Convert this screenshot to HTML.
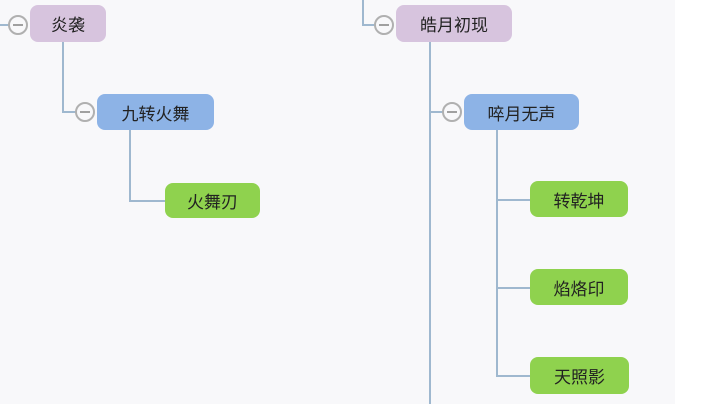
<!DOCTYPE html>
<html><head><meta charset="utf-8"><style>
body{margin:0;width:720px;height:404px;background:#fff;position:relative;overflow:hidden;font-family:"Liberation Sans","Noto Sans CJK SC",sans-serif}
.bg{position:absolute;left:0;top:0;width:675px;height:404px;background:#f8f8fa}
.n{position:absolute;border-radius:8px;display:flex;align-items:center;justify-content:center;font-size:17px;color:#222;box-sizing:border-box}
.p{background:#d7c4de}.b{background:#8db3e6}.g{background:#8fd24e}
.l{position:absolute;background:#9fb8cf}
.c{position:absolute;width:20px;height:20px;border:2px solid #b0b0b0;border-radius:50%;background:#f8f8fa;box-sizing:border-box}
.c::after{content:"";position:absolute;left:3px;right:3px;top:7px;height:2px;background:#a0a0a0}
</style></head><body>
<div class="bg"></div>
<div class="l" style="left:0;top:24px;width:10px;height:2px"></div>
<div class="l" style="left:62px;top:42px;width:2px;height:71px"></div>
<div class="l" style="left:62px;top:111px;width:16px;height:2px"></div>
<div class="l" style="left:129px;top:130px;width:2px;height:72px"></div>
<div class="l" style="left:129px;top:200px;width:36px;height:2px"></div>
<div class="l" style="left:362px;top:0;width:2px;height:26px"></div>
<div class="l" style="left:362px;top:24px;width:14px;height:2px"></div>
<div class="l" style="left:429px;top:42px;width:2px;height:362px"></div>
<div class="l" style="left:429px;top:111px;width:16px;height:2px"></div>
<div class="l" style="left:496px;top:130px;width:2px;height:247px"></div>
<div class="l" style="left:496px;top:199px;width:34px;height:2px"></div>
<div class="l" style="left:496px;top:287px;width:34px;height:2px"></div>
<div class="l" style="left:496px;top:375px;width:34px;height:2px"></div>
<div class="c" style="left:8px;top:15px"></div>
<div class="c" style="left:75px;top:102px"></div>
<div class="c" style="left:374px;top:15px"></div>
<div class="c" style="left:442px;top:102px"></div>
<div class="n p" style="left:30px;top:5px;width:76px;height:37px">炎袭</div>
<div class="n b" style="left:97px;top:94px;width:117px;height:36px">九转火舞</div>
<div class="n g" style="left:165px;top:183px;width:95px;height:35px">火舞刃</div>
<div class="n p" style="left:396px;top:5px;width:116px;height:37px">皓月初现</div>
<div class="n b" style="left:464px;top:94px;width:115px;height:36px">啐月无声</div>
<div class="n g" style="left:530px;top:181px;width:98px;height:36px">转乾坤</div>
<div class="n g" style="left:530px;top:269px;width:98px;height:36px">焰烙印</div>
<div class="n g" style="left:530px;top:357px;width:99px;height:37px">天照影</div>
</body></html>
